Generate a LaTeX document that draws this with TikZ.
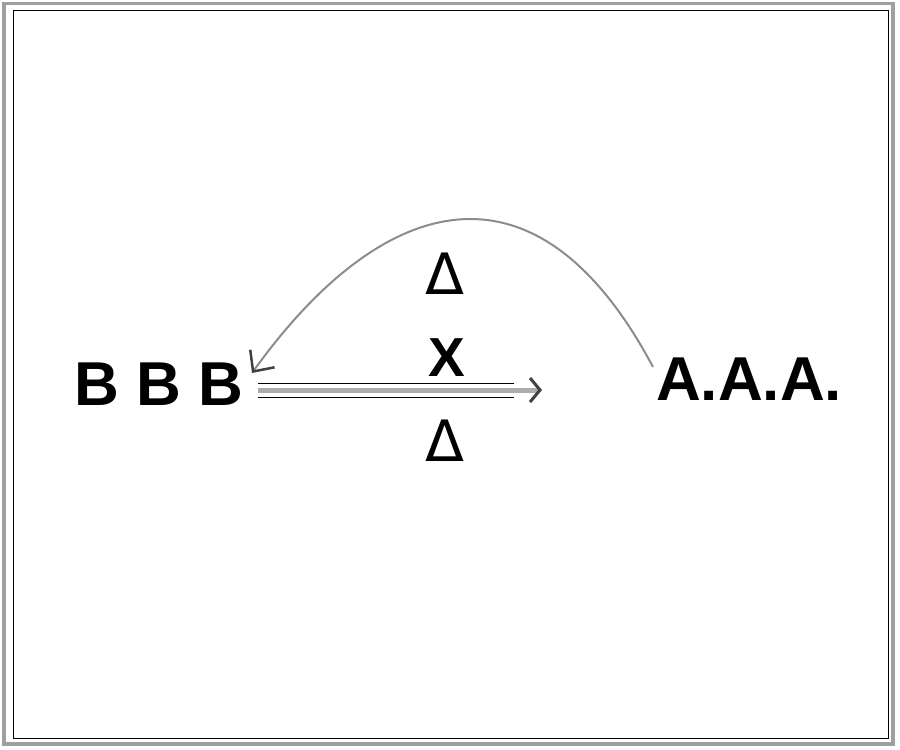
\documentclass[tikz,border=0pt]{standalone}
\usepackage{fontspec}
\setmainfont{Liberation Sans}
\newfontfamily\deltafont{DejaVu Sans}
\usetikzlibrary{arrows.meta}
\begin{document}
\begin{tikzpicture}[x=1pt,y=-1pt,
  big/.style={inner sep=0pt, font=\fontsize{62}{62}\selectfont\bfseries},
  xlabel/.style={inner sep=0pt, font=\fontsize{55}{55}\selectfont\bfseries},
  dlabel/.style={inner sep=0pt, font=\fontsize{57}{57}\selectfont\deltafont},
  shaft/.style={gray!65, line width=5pt},
  rail/.style={black, line width=1pt},
  curve/.style={black!45, line width=2pt}]
\useasboundingbox (0,0) rectangle (900,750);
% frame
\draw[gray!75, line width=3.5pt] (4,3.5) rectangle (893,744);
\draw[black, line width=1pt] (13,10.5) rectangle (888,738);
% texts
\node[big, anchor=base west] (b) at (74,405) {B B B};
\node[big, anchor=base west] (a) at (656,400) {A.A.A.};
\node[xlabel] (x) at (447,358) {X};
\node[dlabel] (d1) at (445,274) {Δ};
\node[dlabel] (d2) at (445,441) {Δ};
% main arrow
\coordinate (s) at (258,390);
\coordinate (t) at (542,390);
\coordinate (s1) at (258,383.3);
\coordinate (t1) at (514,383.3);
\coordinate (s2) at (258,397.3);
\coordinate (t2) at (514,397.3);
\draw[rail] (s1) -- (t1);
\draw[rail] (s2) -- (t2);
\draw[shaft, -{Straight Barb[length=10pt,width=24pt,line width=3pt,color=black!75]}] (s) -- (t);
% curved arrow
\coordinate (cs) at (653,367);
\coordinate (ce) at (252,373);
\draw[curve, -{Straight Barb[length=16pt,width=30pt,line width=2.5pt,color=black!75]}]
  (cs) .. controls (535,145) and (380,195) .. (ce);
\end{tikzpicture}
\end{document}
